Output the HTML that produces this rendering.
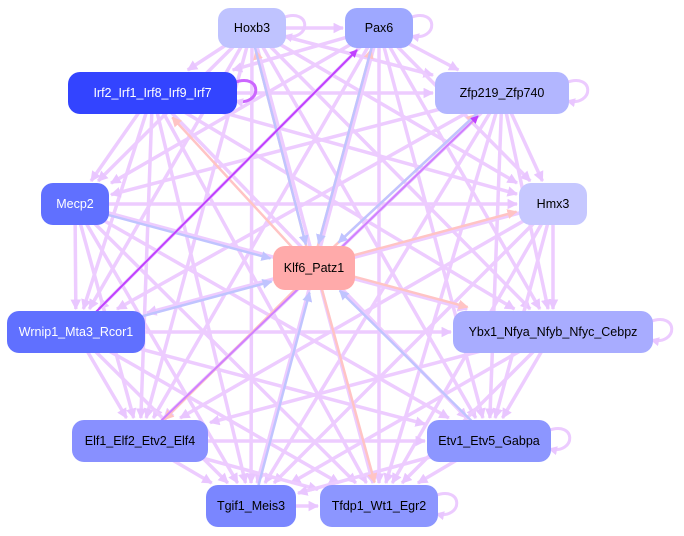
<!DOCTYPE html>
<html><head><meta charset="utf-8"><style>
body{margin:0;background:#fff;width:684px;height:536px;overflow:hidden}
svg{display:block}
text{font-family:"Liberation Sans",sans-serif;font-size:12.5px;text-anchor:middle;dominant-baseline:central}
</style></head><body>
<svg id="s" width="684" height="536" viewBox="0 0 684 536">
<defs>
<marker id="ap" viewBox="0 0 10 10" refX="9" refY="5" markerWidth="3" markerHeight="3" orient="auto"><path d="M0,0L10,5L0,10z" fill="#e9c6ff"/></marker>
<marker id="ad" viewBox="0 0 10 10" refX="9" refY="5" markerWidth="4" markerHeight="4" orient="auto"><path d="M0,0L10,5L0,10z" fill="#c040ff"/></marker>
<marker id="ak" viewBox="0 0 10 10" refX="9" refY="5" markerWidth="4" markerHeight="4" orient="auto"><path d="M0,0L10,5L0,10z" fill="#ffc4c4"/></marker>
<marker id="ab" viewBox="0 0 10 10" refX="9" refY="5" markerWidth="4" markerHeight="4" orient="auto"><path d="M0,0L10,5L0,10z" fill="#c0c4ff"/></marker>
</defs>
<g id="e"></g><g id="n"></g>
</svg>
<script>
var N={
Hoxb3:[218,8,68,40,"#bfc3ff","#000"],
Pax6:[345,8,68,40,"#9ea8ff","#000"],
Irf:[68,72,169,42,"#3344ff","#fff","Irf2_Irf1_Irf8_Irf9_Irf7"],
Zfp:[435,72,134,42,"#b2b6ff","#000","Zfp219_Zfp740"],
Mecp2:[41,183,68,42,"#6070ff","#fff"],
Hmx3:[519,183,68,42,"#c6c8ff","#000"],
Klf:[273,246,82,44,"#ffaaaa","#000","Klf6_Patz1"],
Wrn:[7,311,138,42,"#6070ff","#fff","Wrnip1_Mta3_Rcor1"],
Ybx:[453,311,200,42,"#a8acff","#000","Ybx1_Nfya_Nfyb_Nfyc_Cebpz"],
Elf:[72,420,136,42,"#8890ff","#000","Elf1_Elf2_Etv2_Elf4"],
Etv:[427,420,124,42,"#8c96ff","#000","Etv1_Etv5_Gabpa"],
Tgif:[206,485,90,42,"#7a86ff","#000","Tgif1_Meis3"],
Tfdp:[320,485,118,42,"#8c96ff","#000","Tfdp1_Wt1_Egr2"]};
function c(k){var a=N[k];return[a[0]+a[2]/2,a[1]+a[3]/2]}
var E=document.getElementById("e"),G=document.getElementById("n"),ns="http://www.w3.org/2000/svg";
function ln(a,b,col,w,m,off){var p=c(a),q=c(b);var dx=q[0]-p[0],dy=q[1]-p[1],L=Math.hypot(dx,dy);off=off||0;
var ox=-dy/L*off,oy=dx/L*off;var l=document.createElementNS(ns,"line");
l.setAttribute("x1",p[0]+ox);l.setAttribute("y1",p[1]+oy);
var bb=N[b],t=Math.min(Math.abs((bb[2]/2+2)/(dx||1e-6)),Math.abs((bb[3]/2+2)/(dy||1e-6)));
l.setAttribute("x2",q[0]-dx*t+ox);l.setAttribute("y2",q[1]-dy*t+oy);
l.setAttribute("stroke",col);l.setAttribute("stroke-width",w);if(m)l.setAttribute("marker-end","url(#"+m+")");E.appendChild(l)}
var outer=["Hoxb3","Pax6","Irf","Zfp","Mecp2","Hmx3","Wrn","Ybx","Elf","Etv","Tgif","Tfdp"];
for(var i=0;i<outer.length;i++)for(var j=i+1;j<outer.length;j++){ln(outer[i],outer[j],"#edccff",3.5,"ap",0)}
function loop(k,col){var a=N[k];var x=a[0]+a[2]-4,y=a[1]+a[3]/2;var p=document.createElementNS(ns,"path");
p.setAttribute("d","M"+x+","+(y-10)+" C"+(x+30)+","+(y-22)+" "+(x+30)+","+(y+14)+" "+(x+2)+","+(y+8));
p.setAttribute("fill","none");p.setAttribute("stroke",col);p.setAttribute("stroke-width",3);p.setAttribute("marker-end","url(#ap)");E.appendChild(p)}
["Hoxb3","Pax6","Zfp","Ybx","Etv","Tfdp"].forEach(function(k){loop(k,"#eccbff")});loop("Irf","#cc66ff");
[["Klf","Hoxb3","#ffc4c4","ak"],["Hoxb3","Klf","#c0c4ff","ab"],["Klf","Pax6","#ffc4c4","ak"],["Pax6","Klf","#c0c4ff","ab"],
["Klf","Zfp","#ffc4c4","ak"],["Zfp","Klf","#c0c4ff","ab"],["Klf","Hmx3","#ffc4c4","ak"],["Klf","Ybx","#ffc4c4","ak"],
["Mecp2","Klf","#c0c4ff","ab"],["Wrn","Klf","#c0c4ff","ab"],["Klf","Elf","#ffc4c4","ak"],["Tgif","Klf","#c0c4ff","ab"],
["Klf","Tfdp","#ffc4c4","ak"],["Etv","Klf","#c0c4ff","ab"],["Klf","Irf","#ffc4c4","ak"]].forEach(function(e){ln(e[0],e[1],e[2],2.5,e[3],e[0]=="Klf"?-2:2)});
ln("Wrn","Pax6","#c040ff",2,"ad");
ln("Elf","Zfp","#d080ff",2,"ad");
for(var k in N){var a=N[k];var r=document.createElementNS(ns,"rect");
r.setAttribute("x",a[0]);r.setAttribute("y",a[1]);r.setAttribute("width",a[2]);r.setAttribute("height",a[3]);
r.setAttribute("rx",12);r.setAttribute("fill",a[4]);G.appendChild(r);
var t=document.createElementNS(ns,"text");t.setAttribute("x",a[0]+a[2]/2);t.setAttribute("y",a[1]+a[3]/2);
t.setAttribute("fill",a[5]);t.textContent=a[6]||k;G.appendChild(t)}
</script>
</body></html>
